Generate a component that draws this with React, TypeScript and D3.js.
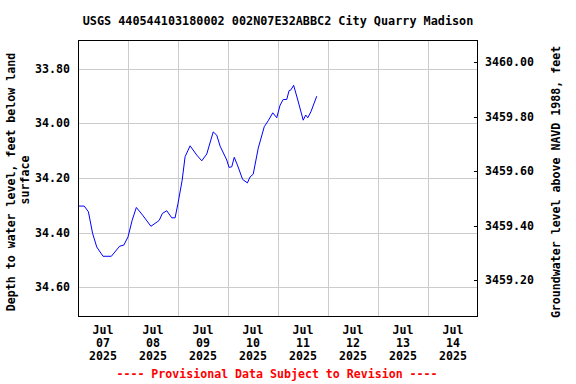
import React, { useEffect, useRef } from "react";
import * as d3 from "d3";

// hours after 2025-07-07 00:00, and depth to water (ft below land surface)
const hoursFromStart = [
  0, 3, 5, 7, 9, 12, 16, 20, 22, 24, 26, 28, 31, 35, 38, 39, 40.5, 42.6, 45, 46.6,
  48, 50, 51.4, 53.8, 57, 59.4, 61.8, 64.9, 66.6, 68.2, 71.4, 72.5, 73.8, 75, 76.7,
  79, 81.3, 82.6, 84.1, 86.5, 89.4, 91.3, 93.5, 95.4, 97, 98.5, 100.2, 101.3, 102.2,
  103.5, 105.5, 108.1, 109.3, 110.3, 111.8, 114.6,
];
const depthFt = [
  34.303, 34.303, 34.324, 34.403, 34.453, 34.487, 34.487, 34.45, 34.446, 34.416,
  34.355, 34.308, 34.336, 34.377, 34.361, 34.355, 34.33, 34.32, 34.346, 34.346,
  34.293, 34.208, 34.122, 34.082, 34.116, 34.137, 34.112, 34.031, 34.043, 34.083,
  34.134, 34.161, 34.159, 34.124, 34.156, 34.205, 34.218, 34.196, 34.186, 34.091,
  34.012, 33.99, 33.961, 33.979, 33.933, 33.912, 33.912, 33.88, 33.877, 33.86,
  33.914, 33.988, 33.969, 33.979, 33.957, 33.9,
];
const leftTicks = [33.8, 34.0, 34.2, 34.4, 34.6];
const rightTicks = [3460.0, 3459.8, 3459.6, 3459.4, 3459.2];
const dayLabels = ["07", "08", "09", "10", "11", "12", "13", "14"];
const landSurface = 3493.775;

const App = () => {
  const svgRef = useRef(null);

  useEffect(() => {
    const width = 576;
    const height = 384;
    const margin = { top: 40, right: 98, bottom: 68, left: 78 };
    const font = "'DejaVu Sans Mono', monospace";

    const svg = d3.select(svgRef.current).attr("width", width).attr("height", height);
    svg.selectAll("*").remove();

    const start = new Date(2025, 6, 7);
    const end = new Date(2025, 6, 15);
    const x = d3.scaleTime().domain([start, end]).range([margin.left, width - margin.right]);
    const y = d3.scaleLinear().domain([33.694, 34.706]).range([margin.top, height - margin.bottom]);
    const y2 = d3
      .scaleLinear()
      .domain([landSurface - 33.694, landSurface - 34.706])
      .range([margin.top, height - margin.bottom]);

    const x0 = margin.left;
    const x1 = width - margin.right;
    const yTop = margin.top;
    const yBot = height - margin.bottom;

    // grid
    const days = d3.timeDay.range(d3.timeDay.offset(start, 1), end);
    svg
      .selectAll(".vgrid")
      .data(days)
      .join("line")
      .attr("x1", (d) => Math.round(x(d)) + 0.5)
      .attr("x2", (d) => Math.round(x(d)) + 0.5)
      .attr("y1", yTop)
      .attr("y2", yBot)
      .attr("stroke", "#cccccc");
    svg
      .selectAll(".hgrid")
      .data(leftTicks)
      .join("line")
      .attr("x1", x0)
      .attr("x2", x1)
      .attr("y1", (d) => Math.round(y(d)) + 0.5)
      .attr("y2", (d) => Math.round(y(d)) + 0.5)
      .attr("stroke", "#cccccc");

    // right axis ticks (inward)
    svg
      .selectAll(".rtick")
      .data(rightTicks)
      .join("line")
      .attr("x1", x1 - 4)
      .attr("x2", x1)
      .attr("y1", (d) => Math.round(y2(d)) + 0.5)
      .attr("y2", (d) => Math.round(y2(d)) + 0.5)
      .attr("stroke", "#000");

    // data line
    const data = hoursFromStart.map((h, i) => ({ t: d3.timeMinute.offset(start, Math.round(h * 60)), v: depthFt[i] }));
    const line = d3
      .line()
      .x((d) => x(d.t))
      .y((d) => y(d.v));
    svg
      .append("path")
      .datum(data)
      .attr("d", line)
      .attr("fill", "none")
      .attr("stroke", "#0000ff")
      .attr("stroke-width", 1);

    // frame
    svg
      .append("rect")
      .attr("x", x0 + 0.5)
      .attr("y", yTop + 0.5)
      .attr("width", x1 - x0 - 1)
      .attr("height", yBot - yTop)
      .attr("fill", "none")
      .attr("stroke", "#000");

    const txt = (tx, ty, s, anchor = "middle", size = 11.6, color = "#000") =>
      svg
        .append("text")
        .attr("x", tx)
        .attr("y", ty)
        .attr("text-anchor", anchor)
        .attr("font-family", font)
        .attr("font-weight", "bold")
        .attr("font-size", size)
        .attr("fill", color)
        .text(s);

    // left tick labels
    leftTicks.forEach((t) => txt(70, y(t) + 4, t.toFixed(2), "end"));
    // right tick labels
    rightTicks.forEach((t) => txt(485, y2(t) + 4, t.toFixed(2), "start"));

    // x labels at noon
    dayLabels.forEach((d, i) => {
      const cx = x(d3.timeHour.offset(start, i * 24 + 12));
      txt(cx, 334, "Jul");
      txt(cx, 347, d);
      txt(cx, 360, "2025");
    });

    // title
    txt(278, 25, "USGS 440544103180002 002N07E32ABBC2 City Quarry Madison", "middle", 11.8);

    // axis titles
    txt(0, 0, "Depth to water level, feet below land", "middle").attr("transform", "translate(15,182) rotate(-90)");
    txt(0, 0, "surface", "middle").attr("transform", "translate(29,180) rotate(-90)");
    txt(0, 0, "Groundwater level above NAVD 1988, feet", "middle").attr("transform", "translate(560,182) rotate(-90)");

    // footer
    txt(277, 378, "---- Provisional Data Subject to Revision ----", "middle", 11.6, "#ff0000");
  }, []);

  return <svg ref={svgRef} style={{ position: "absolute", left: 0, top: 0, background: "#fff" }}></svg>;
};

export default App;
